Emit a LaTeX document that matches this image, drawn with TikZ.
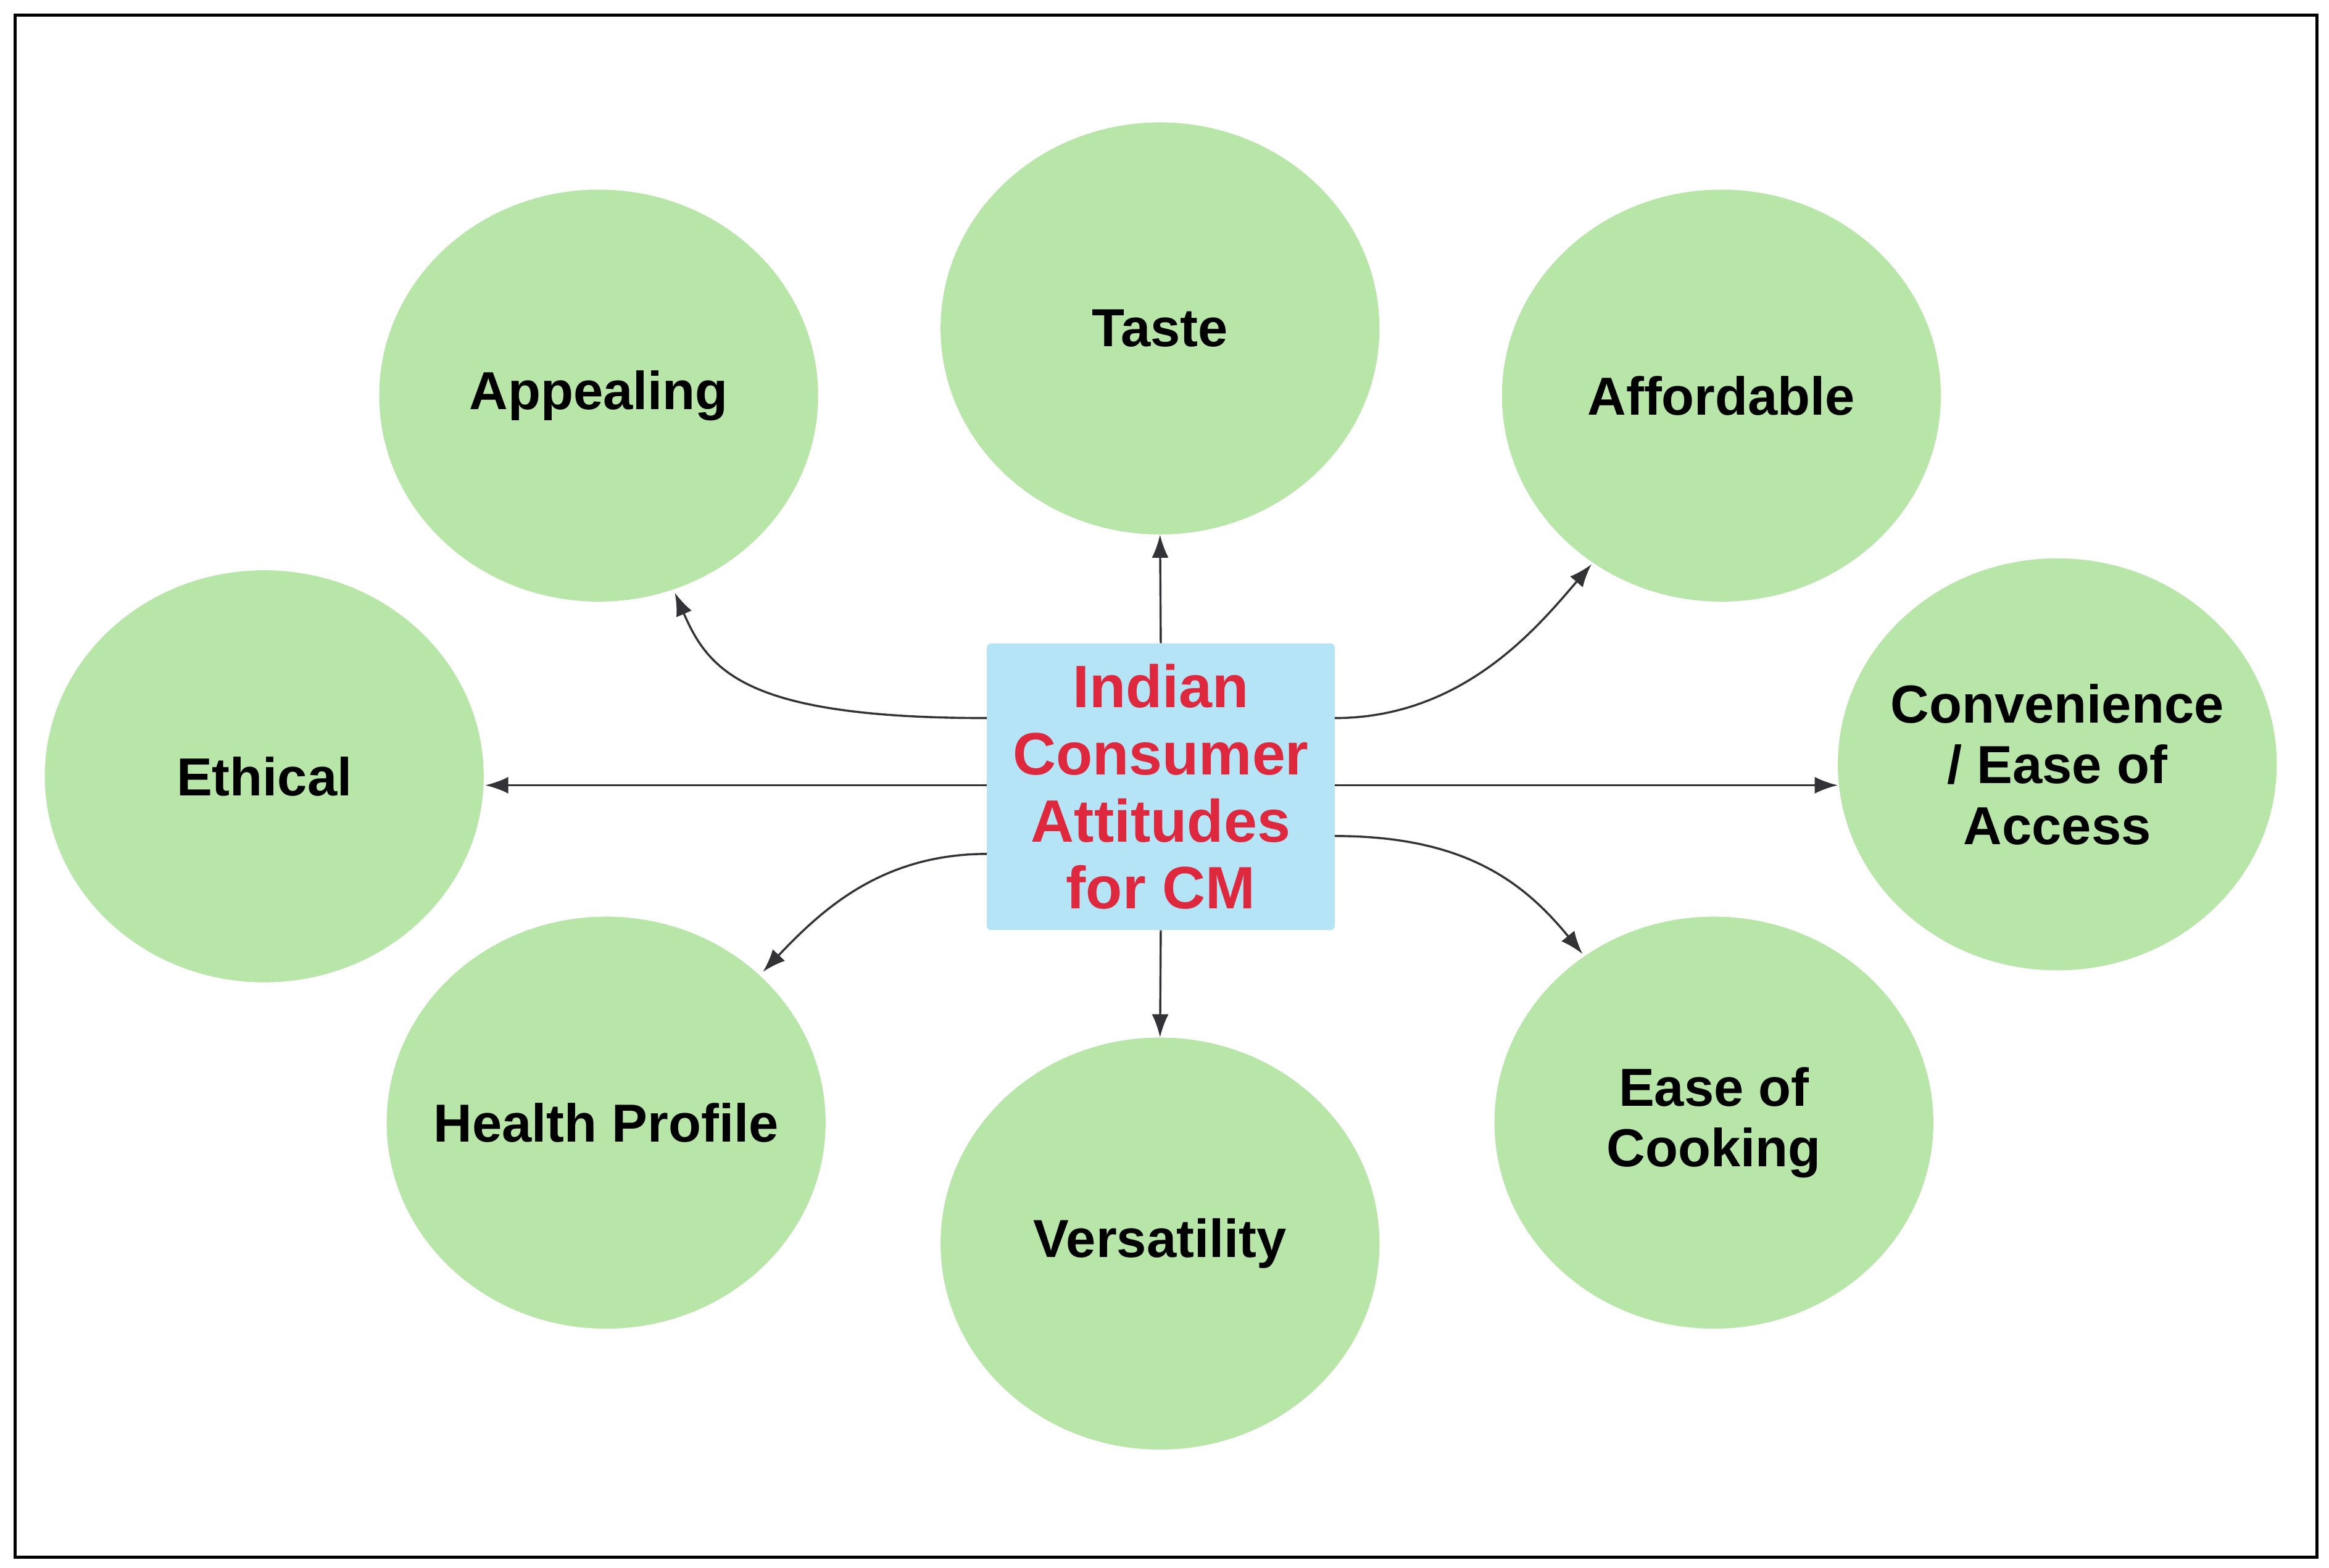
\documentclass[tikz,border=0pt]{standalone}
\usepackage{fontspec}
\setmainfont{Liberation Sans}
\usetikzlibrary{shapes.geometric,arrows.meta}
\definecolor{cgreen}{RGB}{184,230,168}
\definecolor{cblue}{RGB}{180,228,246}
\definecolor{cred}{RGB}{222,40,62}
\definecolor{cline}{RGB}{50,50,55}
\tikzset{
  bub/.style={ellipse,fill=cgreen,minimum width=14.7cm,minimum height=13.8cm,inner sep=0pt},
  btxt/.style={align=center,font=\fontsize{51}{58}\selectfont\bfseries,inner sep=0pt},
  conn/.style={draw=cline,line width=2pt,-{Latex[length=22pt,width=16pt]}}
}
\begin{document}
\begin{tikzpicture}[x=0.05cm,y=-0.05cm]
\useasboundingbox (0,0) rectangle (1560,1050);
\draw[line width=3pt] (10,10) rectangle (1552,1043);
\node[bub] (taste) at (777,220) {}; \node[btxt] (tt) at (taste.center) {Taste};
\node[bub] (app) at (401,265) {}; \node[btxt] (ta) at (app.center) {Appealing};
\node[bub] (aff) at (1153,265) {}; \node[btxt] (tf) at (aff.center) {Affordable};
\node[bub] (eth) at (177,520) {}; \node[btxt] (te) at (eth.center) {Ethical};
\node[bub] (conv) at (1378,512) {}; \node[btxt] (tc) at (conv.center) {Convenience\\/ Ease of\\Access};
\node[bub] (hp) at (406,752) {}; \node[btxt] (th) at (hp.center) {Health Profile};
\node[bub] (vers) at (777,833) {}; \node[btxt] (tv) at (vers.center) {Versatility};
\node[bub] (eoc) at (1148,752) {}; \node[btxt] (tk) at (eoc.center) {Ease of\\Cooking};
\node[fill=cblue,rounded corners=4pt,minimum width=11.65cm,minimum height=9.6cm,align=center,text=cred,font=\fontsize{57}{64}\selectfont\bfseries,inner sep=0pt] (box) at (777.5,527) {Indian\\Consumer\\Attitudes\\for CM};
\coordinate (s1) at (661,481); \coordinate (e1) at (452,397);
\coordinate (s2) at (894,481); \coordinate (e2) at (1066,378);
\coordinate (s3) at (661,572); \coordinate (e3) at (511,651);
\coordinate (s4) at (894,560); \coordinate (e4) at (1060,639);
\coordinate (sl) at (661,526); \coordinate (el) at (325,526);
\coordinate (sr) at (894,526); \coordinate (er) at (1231,526);
\draw[conn] (box.north) -- (taste.south);
\draw[conn] (box.south) -- (vers.north);
\draw[conn] (sl) -- (el);
\draw[conn] (sr) -- (er);
\draw[conn] (s1) .. controls (500,481) and (475,450) .. (e1);
\draw[conn] (s2) .. controls (980,481) and (1030,420) .. (e2);
\draw[conn] (s3) .. controls (590,572) and (550,610) .. (e3);
\draw[conn] (s4) .. controls (980,560) and (1020,590) .. (e4);
\end{tikzpicture}
\end{document}
